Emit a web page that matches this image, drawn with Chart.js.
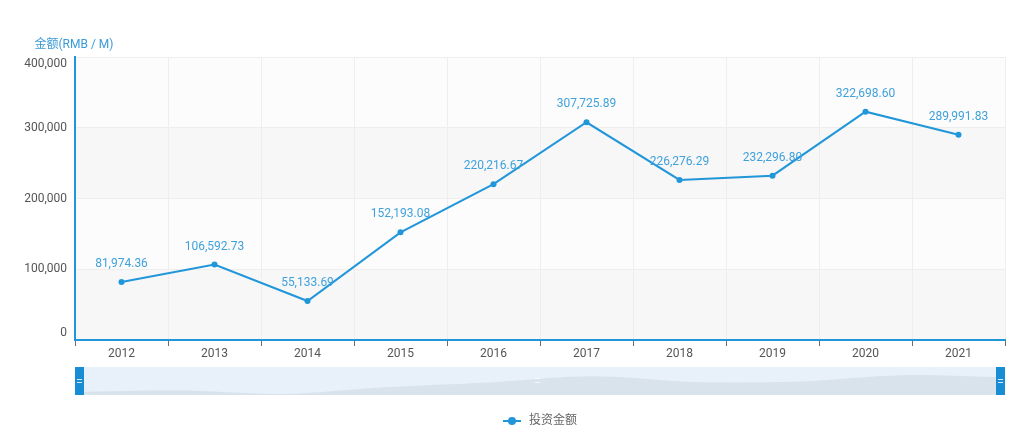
<!DOCTYPE html>
<html>
<head>
<meta charset="utf-8">
<script src="https://cdn.jsdelivr.net/npm/chart.js@4.4.1/dist/chart.umd.min.js"></script>
<style>
    html, body { margin: 0; padding: 0; background: #fff; }
    #wrap { position: relative; width: 1031px; height: 445px; }
    #slider { position: absolute; left: 75px; top: 367px; }
</style>
</head>
<body>
<div id="wrap">
    <canvas id="myChart" width="1031" height="445"></canvas>
    <canvas id="slider" width="930" height="28"></canvas>
</div>
<script>
// datos
const years = ['2012', '2013', '2014', '2015', '2016', '2017', '2018', '2019', '2020', '2021'];
const amounts = [81974.36, 106592.73, 55133.69, 152193.08, 220216.67, 307725.89, 226276.29, 232296.80, 322698.60, 289991.83];
const yTicks = [0, 100000, 200000, 300000, 400000];
const seriesName = '投资金额';
const axisName = '金额(RMB / M)';

// rango de la sombra del slider
const shadowMin = 40000;
const shadowMax = 440000;

const FONT = '"Roboto", "Noto Sans CJK SC", sans-serif';
const BLUE = '#2196d9';
const LABEL_BLUE = '#3fa1dc';
const TEXT = '#555555';

const fmt = v => v.toLocaleString('en-US', { minimumFractionDigits: 2, maximumFractionDigits: 2 });

// bandas alternas (splitArea)
const bandsPlugin = {
    id: 'bands',
    beforeDraw(chart) {
        const { ctx, chartArea: a } = chart;
        const y = chart.scales.y;
        ctx.save();
        for (let i = 0; i < yTicks.length - 1; i++) {
            const y0 = y.getPixelForValue(yTicks[i]);
            const y1 = y.getPixelForValue(yTicks[i + 1]);
            ctx.fillStyle = i % 2 === 0 ? '#f7f7f7' : '#fcfcfc';
            ctx.fillRect(a.left, y1, a.right - a.left, y0 - y1);
        }
        ctx.restore();
    }
};

// etiquetas de ejes, valores y leyenda
const textPlugin = {
    id: 'texts',
    afterDraw(chart) {
        const { ctx, chartArea: a } = chart;
        const x = chart.scales.x;
        const y = chart.scales.y;
        ctx.save();
        ctx.font = '12px ' + FONT;

        // eje y
        ctx.fillStyle = TEXT;
        ctx.textAlign = 'right';
        ctx.textBaseline = 'middle';
        yTicks.forEach((t, i) => {
            let py = y.getPixelForValue(t);
            if (i === 0) py -= 7;
            if (i === yTicks.length - 1) py += 7;
            ctx.fillText(t.toLocaleString('en-US'), a.left - 8, py);
        });

        // eje x
        ctx.textAlign = 'center';
        years.forEach((yr, i) => {
            ctx.fillText(yr, x.getPixelForValue(i), a.bottom + 14);
        });

        // nombre del eje
        ctx.fillStyle = '#3a9bd8';
        ctx.fillText(axisName, a.left - 1, a.top - 12);

        // valores encima de cada punto
        ctx.fillStyle = LABEL_BLUE;
        const meta = chart.getDatasetMeta(0);
        meta.data.forEach((p, i) => {
            ctx.fillText(fmt(amounts[i]), p.x, p.y - 18);
        });

        // leyenda
        const cx = (a.left + a.right) / 2;
        const ly = 421;
        const textW = ctx.measureText(seriesName).width;
        const startX = cx - (18 + 8 + textW) / 2;
        ctx.strokeStyle = BLUE;
        ctx.lineWidth = 2;
        ctx.beginPath();
        ctx.moveTo(startX, ly);
        ctx.lineTo(startX + 18, ly);
        ctx.stroke();
        ctx.fillStyle = BLUE;
        ctx.beginPath();
        ctx.arc(startX + 9, ly, 4, 0, Math.PI * 2);
        ctx.fill();
        ctx.fillStyle = '#666666';
        ctx.textAlign = 'left';
        ctx.fillText(seriesName, startX + 26, ly);
        ctx.restore();
    }
};

new Chart(document.getElementById('myChart').getContext('2d'), {
    type: 'line',
    data: {
        labels: years,
        datasets: [{
            label: seriesName,
            data: amounts,
            borderColor: BLUE,
            backgroundColor: BLUE,
            borderWidth: 2,
            pointRadius: 3,
            pointBackgroundColor: BLUE,
            pointBorderWidth: 0,
            tension: 0,
            fill: false
        }]
    },
    options: {
        responsive: false,
        animation: false,
        layout: { padding: { left: 75, top: 57, right: 26, bottom: 99 } },
        plugins: { legend: { display: false }, tooltip: { enabled: false } },
        scales: {
            x: {
                type: 'category',
                offset: true,
                grid: { offset: true, color: '#eeeeee', tickColor: '#6e7079', tickLength: 6, drawTicks: true },
                border: { color: BLUE, width: 2 },
                ticks: { display: false }
            },
            y: {
                min: 0,
                max: 400000,
                ticks: { display: false, stepSize: 100000 },
                grid: { color: '#eeeeee', drawTicks: false },
                border: { color: BLUE, width: 2 }
            }
        }
    },
    plugins: [bandsPlugin, textPlugin]
});

// slider (dataZoom) con sombra de datos
const sliderPlugin = {
    id: 'sliderBg',
    beforeDraw(chart) {
        const { ctx, width, height } = chart;
        ctx.save();
        ctx.fillStyle = '#e8f1fa';
        ctx.fillRect(0, 0, width, height);
        ctx.restore();
    },
    afterDraw(chart) {
        const { ctx, width, height } = chart;
        ctx.save();
        // marca central
        ctx.fillStyle = 'rgba(255,255,255,0.7)';
        ctx.fillRect(width / 2 - 5, height / 2 - 3, 5, 1);
        ctx.fillRect(width / 2 - 5, height / 2 + 1, 5, 1);
        // asas
        [0, width - 9].forEach(hx => {
            ctx.fillStyle = '#188dd4';
            ctx.fillRect(hx, 0, 9, height);
            ctx.fillStyle = 'rgba(255,255,255,0.8)';
            ctx.fillRect(hx + 2, height / 2 - 2, 5, 1);
            ctx.fillRect(hx + 2, height / 2 + 1, 5, 1);
        });
        ctx.restore();
    }
};

new Chart(document.getElementById('slider').getContext('2d'), {
    type: 'line',
    data: {
        labels: years,
        datasets: [{
            data: amounts,
            borderWidth: 0,
            borderColor: 'rgba(0,0,0,0)',
            backgroundColor: '#d9e3ec',
            pointRadius: 0,
            tension: 0.3,
            fill: 'start'
        }]
    },
    options: {
        responsive: false,
        animation: false,
        layout: { padding: 0 },
        plugins: { legend: { display: false }, tooltip: { enabled: false } },
        scales: {
            x: { display: false, offset: false },
            y: { display: false, min: shadowMin, max: shadowMax }
        }
    },
    plugins: [sliderPlugin]
});
</script>
</body>
</html>
